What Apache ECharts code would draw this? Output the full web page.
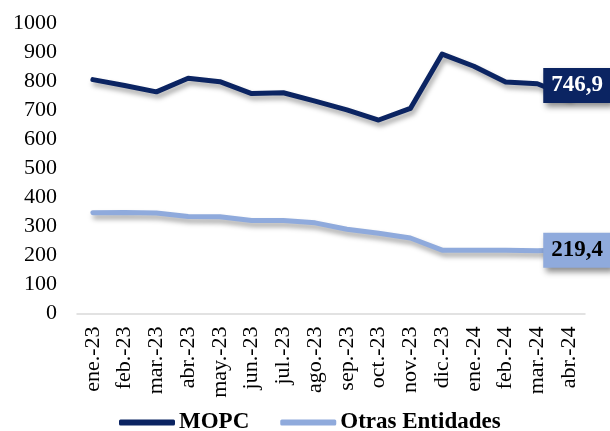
<!DOCTYPE html>
<html>
<head>
<meta charset="utf-8">
<script src="https://cdn.jsdelivr.net/npm/echarts@6/dist/echarts.min.js"></script>
<style>
  html, body { margin: 0; padding: 0; background: #ffffff; }
  #chart { width: 610px; height: 431px; }
</style>
</head>
<body>
<div id="chart"></div>
<script>
// Monthly series, January 2023 to April 2024
const months = ['ene.-23', 'feb.-23', 'mar.-23', 'abr.-23', 'may.-23', 'jun.-23', 'jul.-23', 'ago.-23',
                'sep.-23', 'oct.-23', 'nov.-23', 'dic.-23', 'ene.-24', 'feb.-24', 'mar.-24', 'abr.-24'];
const mopc = [805, 785, 763, 810, 798, 757, 760, 731, 701, 666, 706, 893, 851, 797, 791, 746.9];
const otras = [347, 348, 346, 334, 333, 320, 320, 312, 290, 276, 260, 218, 218, 218, 216, 219.4];
const yTicks = { min: 0, max: 1000, step: 100 };

const FONT = "'Liberation Serif', 'DejaVu Serif', serif";
const NAVY = '#0B2462';
const LIGHT = '#8FAADC';

// Only the last point of each series carries a boxed value label
function withEndLabel(values, labelStyle) {
  const last = values.length - 1;
  return values.map((v, i) => i === last
    ? { value: v, label: Object.assign({
        show: true,
        position: 'inside',
        formatter: p => String(p.value).replace('.', ','),
        fontFamily: FONT,
        fontWeight: 'bold',
        fontSize: 23,
        lineHeight: 23,
        padding: [6, 8, 6, 8],
        shadowColor: 'rgba(0,0,0,0.45)',
        shadowBlur: 6,
        shadowOffsetX: 3,
        shadowOffsetY: 4
      }, labelStyle) }
    : v);
}

function lineSeries(name, values, color, labelStyle) {
  return {
    name: name,
    type: 'line',
    data: withEndLabel(values, labelStyle),
    symbol: 'circle',
    symbolSize: 0.1,
    showSymbol: true,
    itemStyle: { color: color },
    lineStyle: {
      color: color,
      width: 5,
      cap: 'round',
      join: 'round',
      shadowColor: 'rgba(0,0,0,0.35)',
      shadowBlur: 5,
      shadowOffsetX: 2,
      shadowOffsetY: 4
    },
    emphasis: { disabled: true },
    animation: false
  };
}

const chart = echarts.init(document.getElementById('chart'), null, { renderer: 'canvas' });
chart.setOption({
  backgroundColor: '#ffffff',
  animation: false,
  grid: { left: 77, right: 25, top: 23, bottom: 117.5, containLabel: false },
  legend: {
    left: 114,
    top: 406,
    itemWidth: 56,
    itemHeight: 6,
    itemGap: 31,
    icon: 'roundRect',
    textStyle: { fontFamily: FONT, fontWeight: 'bold', fontSize: 23, color: '#000', padding: [0, 0, 0, -1] },
    data: ['MOPC', 'Otras Entidades']
  },
  xAxis: {
    type: 'category',
    data: months,
    boundaryGap: true,
    axisLine: { lineStyle: { color: '#D9D9D9', width: 1.5 } },
    axisTick: { show: false },
    axisLabel: {
      rotate: 90,
      interval: 0,
      margin: 13,
      fontFamily: FONT,
      fontSize: 22,
      color: '#000'
    },
    splitLine: { show: false }
  },
  yAxis: {
    type: 'value',
    min: yTicks.min,
    max: yTicks.max,
    interval: yTicks.step,
    axisLine: { show: false },
    axisTick: { show: false },
    splitLine: { show: false },
    axisLabel: {
      margin: 20,
      formatter: v => String(v),
      fontFamily: FONT,
      fontSize: 22,
      color: '#000'
    }
  },
  series: [
    lineSeries('MOPC', mopc, NAVY, { color: '#ffffff', backgroundColor: NAVY, offset: [8, -11] }),
    lineSeries('Otras Entidades', otras, LIGHT, { color: '#000000', backgroundColor: LIGHT, offset: [8, 0.5] })
  ]
});
</script>
</body>
</html>
